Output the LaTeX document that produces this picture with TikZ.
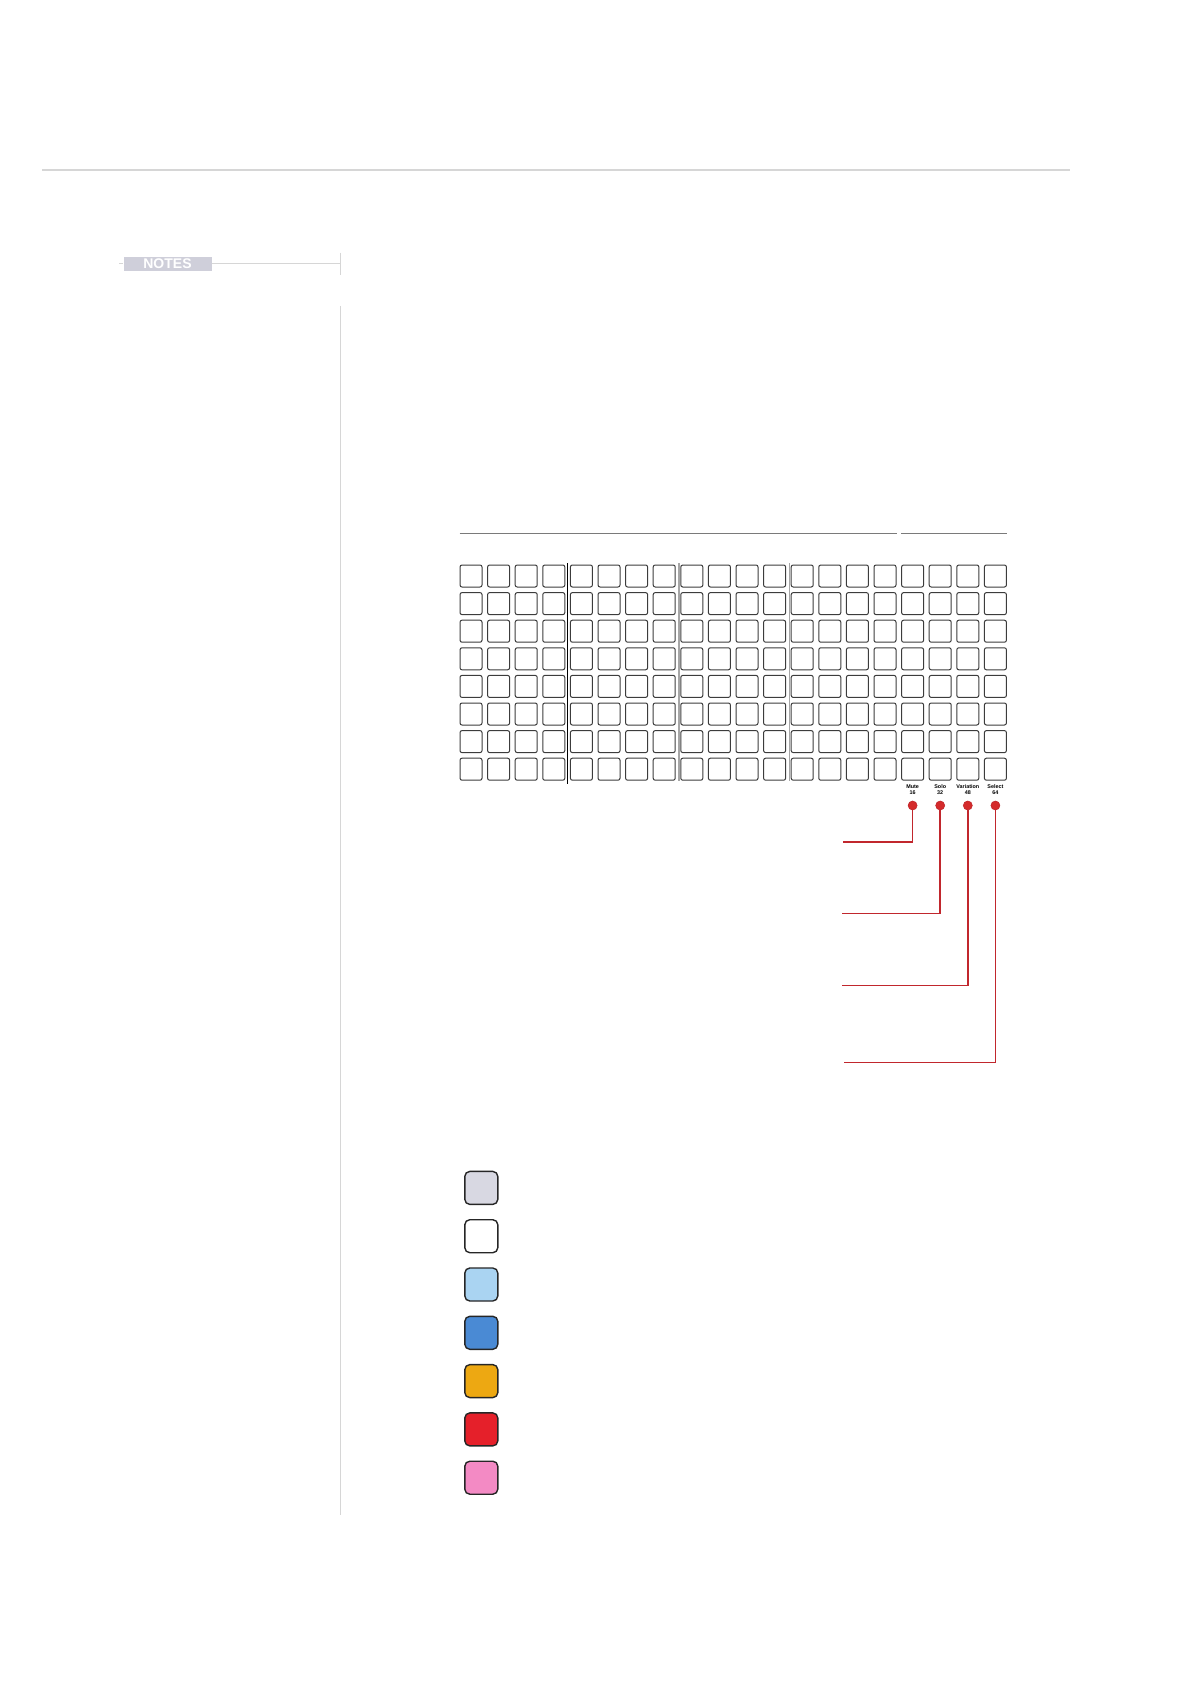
\documentclass[tikz,border=0pt]{standalone}
\usepackage{fontspec}
\setmainfont{Liberation Sans}
\usetikzlibrary{positioning}
\definecolor{kexam}{HTML}{D6D6D6}
\definecolor{nhanxam}{HTML}{CFCFDA}
\definecolor{vienpad}{HTML}{3C3C3C}
\definecolor{kedam}{HTML}{7A7A7A}
\definecolor{dayred}{HTML}{C1272D}
\definecolor{chamred}{HTML}{D42B2B}
\definecolor{mauxam}{HTML}{D8D8E2}
\definecolor{mauxanhnhat}{HTML}{AAD4F2}
\definecolor{mauxanh}{HTML}{4A8AD4}
\definecolor{maucam}{HTML}{EDA812}
\definecolor{maudo}{HTML}{E5202A}
\definecolor{mauhong}{HTML}{F38AC4}
\tikzset{
  pad/.style={draw=vienpad,line width=0.5pt,rounded corners=1pt,minimum size=11pt,inner sep=0pt},
  oMau/.style={draw=black!85,line width=0.7pt,rounded corners=2.5pt,minimum size=16.5pt,inner sep=0pt},
  cham/.style={circle,fill=chamred,draw=dayred,line width=0.3pt,minimum size=4.5pt,inner sep=0pt},
  chuNho/.style={font=\bfseries\fontsize{2.7}{2.7}\selectfont,align=center,inner sep=0pt},
  day/.style={dayred,line width=0.75pt}
}
\begin{document}
\begin{tikzpicture}[x=0.5pt,y=-0.5pt]
\useasboundingbox (0,0) rectangle (1191,1684);
% đường kẻ trên cùng
\draw[kexam,line width=1pt] (42,170) -- (1070,170);
% nhãn NOTES
\node[fill=nhanxam,text=white,font=\bfseries\fontsize{7}{7}\selectfont,minimum width=44pt,minimum height=7pt,inner sep=0pt] (notes) at (167.5,263.7) {NOTES};
\draw[kexam,line width=0.6pt] (119,263.7) -- (notes.west);
\draw[kexam,line width=0.6pt] (notes.east) -- (340.6,263.7);
\draw[kexam,line width=0.8pt] (340.6,252.7) -- (340.6,275);
\draw[kexam,line width=0.8pt] (340.6,306) -- (340.6,1515);
% lưới nút 8 x 20
\foreach \r in {0,...,7} {
  \foreach \c in {0,...,19} {
    \node[pad] (p-\r-\c) at (471+27.6*\c,576+27.6*\r) {};
  }
}
% vạch chia cột
\draw[black,line width=0.6pt] (567.8,563) -- (567.8,784);
\draw[black!35,line width=0.6pt] (678.9,563) -- (678.9,781);
\draw[black!35,line width=0.6pt] (789.3,563) -- (789.3,781);
% đường kẻ phía trên lưới
\draw[kedam,line width=0.5pt] (p-0-0.west |- 0,533) -- (p-0-15.east |- 0,533);
\draw[kedam,line width=0.5pt] (p-0-16.west |- 0,533) -- (p-0-19.east |- 0,533);
% nhãn cột phải
\foreach \c/\ten/\so [count=\i] in {16/Mute/16,17/Solo/32,18/Variation/48,19/Select/64} {
  \node[chuNho,anchor=north] (t\i) at (p-7-\c.south |- 0,784.5) {\ten\\\so};
  \node[cham] (d\i) at (p-7-\c.center |- 0,805.5) {};
}
% dây nối màu đỏ
\coordinate (e1) at (843,842);
\coordinate (e2) at (842,913.7);
\coordinate (e3) at (842,985.7);
\coordinate (e4) at (844,1062.7);
\foreach \i in {1,...,4} {
  \draw[day] (d\i) |- (e\i);
}
% bảng màu
\foreach \mau [count=\i] in {mauxam,white,mauxanhnhat,mauxanh,maucam,maudo,mauhong} {
  \node[oMau,fill=\mau] (mau\i) at (481.3,1139.6+48.3*\i) {};
}
\end{tikzpicture}
\end{document}
